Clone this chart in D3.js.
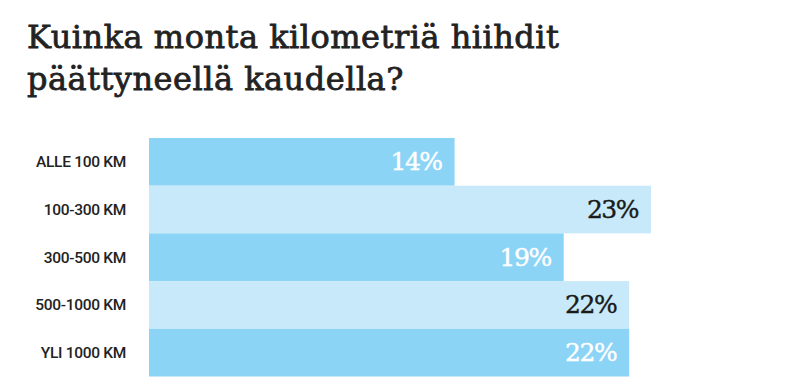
<!DOCTYPE html>
<html>
<head>
<meta charset="utf-8">
<script src="https://cdn.jsdelivr.net/npm/d3@7"></script>
<style>
  body { margin: 0; background: #fff; }
  svg { display: block; }
</style>
</head>
<body>
<svg id="svg1" width="800" height="386"></svg>
<script>
// chart data
var titleLines = ["Kuinka monta kilometriä hiihdit", "päättyneellä kaudella?"];
var categories = ["ALLE 100 KM", "100-300 KM", "300-500 KM", "500-1000 KM", "YLI 1000 KM"];
var values = [14, 23, 19, 22, 22];

// layout
var chartLeft = 149;
var chartTop = 138;
var chartBottom = 376.5;
var darkBlue = "#8cd4f6";
var lightBlue = "#c7e9f9";

var svg = d3.select("#svg1");

// title
svg.append("g")
  .selectAll("text")
  .data(titleLines)
  .enter().append("text")
    .attr("x", 27)
    .attr("y", function(d, i) { return 48 + i * 41.5; })
    .text(function(d) { return d; })
    .style("font-family", "'DejaVu Serif', serif")
    .style("font-size", "32px")
    .style("letter-spacing", "0.5px")
    .style("stroke", "#222")
    .style("stroke-width", "0.8px")
    .style("fill", "#222");

// scales
var xScale = d3.scaleLinear()
  .domain([0, 23])
  .range([chartLeft, 651]);

var yScale = d3.scaleBand()
  .domain(categories)
  .range([chartTop, chartBottom])
  .padding(0);

// bars
var rows = svg.append("g")
  .selectAll("g")
  .data(values)
  .enter().append("g");

rows.append("rect")
  .attr("x", xScale(0))
  .attr("y", function(d, i) { return yScale(categories[i]); })
  .attr("width", function(d) { return xScale(d) - xScale(0); })
  .attr("height", yScale.bandwidth())
  .style("fill", function(d, i) { return i % 2 == 0 ? darkBlue : lightBlue; });

// value labels
rows.append("text")
  .attr("x", function(d) { return xScale(d) - 13; })
  .attr("y", function(d, i) { return yScale(categories[i]) + yScale.bandwidth() / 2 + 8.5; })
  .attr("text-anchor", "end")
  .text(function(d) { return d + "%"; })
  .style("font-family", "'DejaVu Serif', serif")
  .style("font-size", "25px")
  .style("letter-spacing", "-1.5px")
  .style("stroke-width", "0.4px")
  .style("fill", function(d, i) { return i % 2 == 0 ? "#fff" : "#1a1a1a"; })
  .style("stroke", function(d, i) { return i % 2 == 0 ? "#fff" : "#1a1a1a"; });

// category axis
var y_axis = d3.axisLeft(yScale).tickSize(0).tickPadding(0);
var axisG = svg.append("g")
  .attr("transform", "translate(126,0)")
  .call(y_axis);
axisG.select(".domain").remove();
axisG.selectAll("text")
  .attr("dy", "0.35em")
  .style("font-family", "Roboto, sans-serif")
  .style("font-weight", "500")
  .style("font-size", "15.5px")
  .style("letter-spacing", "-0.3px")
  .style("fill", "#222");
</script>
</body>
</html>
